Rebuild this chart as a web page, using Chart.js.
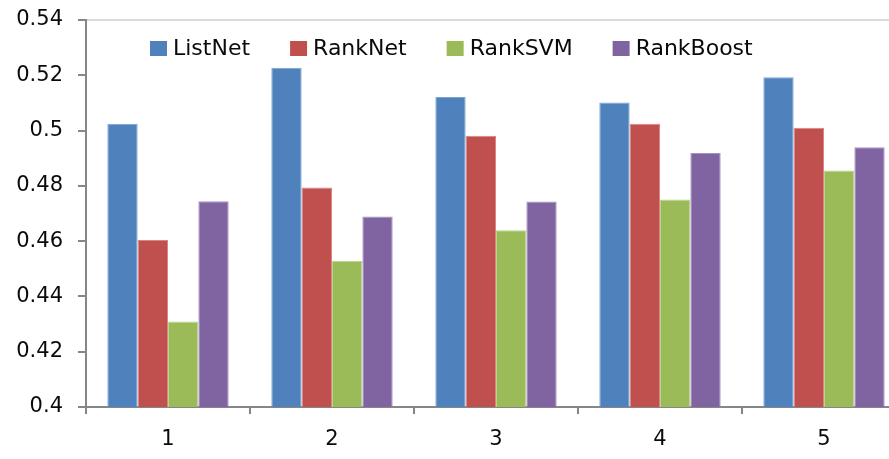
<!DOCTYPE html>
<html>
<head>
<meta charset="utf-8">
<script src="https://cdn.jsdelivr.net/npm/chart.js@4/dist/chart.umd.min.js"></script>
<style>
  html, body { margin: 0; padding: 0; background: #fff; overflow: hidden; }
  #wrap { width: 910px; height: 459px; }
</style>
</head>
<body>
<div id="wrap"><canvas id="c" width="910" height="459"></canvas></div>
<script>
// Categories and series
const categories = ['1', '2', '3', '4', '5'];
const seriesNames = ['ListNet', 'RankNet', 'RankSVM', 'RankBoost'];
const listNet   = [0.5025, 0.5227, 0.5121, 0.5102, 0.5193];
const rankNet   = [0.4604, 0.4794, 0.4981, 0.5025, 0.5010];
const rankSVM   = [0.4309, 0.4528, 0.4639, 0.4751, 0.4856];
const rankBoost = [0.4744, 0.4689, 0.4743, 0.4919, 0.4940];
const yTickLabels = ['0.4', '0.42', '0.44', '0.46', '0.48', '0.5', '0.52', '0.54'];

const colors = ['#4F81BD', '#C0504D', '#9BBB59', '#8064A2'];
const edgeColors = ['#7FA3D3', '#D88683', '#BBD48F', '#A590C0'];
const seriesValues = [listNet, rankNet, rankSVM, rankBoost];

const FONT = '"DejaVu Sans", Verdana, sans-serif';

// Legend drawn inside the plot area, in one row near the top
const innerLegend = {
  id: 'innerLegend',
  afterDraw(chart) {
    const ctx = chart.ctx;
    ctx.save();
    ctx.font = '22px ' + FONT;
    ctx.textBaseline = 'middle';
    ctx.textAlign = 'left';
    let x = 150;
    const yc = 49;
    chart.data.datasets.forEach(ds => {
      ctx.fillStyle = ds.backgroundColor;
      ctx.fillRect(x, yc - 8, 17, 15);
      x += 17 + 6;
      ctx.fillStyle = '#0a0a0a';
      ctx.fillText(ds.label, x, yc);
      x += ctx.measureText(ds.label).width + 40;
    });
    ctx.restore();
  }
};

new Chart(document.getElementById('c'), {
  type: 'bar',
  data: {
    labels: categories,
    datasets: seriesNames.map((name, i) => ({
      label: name,
      data: seriesValues[i],
      backgroundColor: colors[i],
      borderColor: edgeColors[i],
      borderWidth: { top: 1, left: 1, right: 1, bottom: 0 },
      categoryPercentage: 0.74,
      barPercentage: 1.0
    }))
  },
  options: {
    responsive: false,
    animation: false,
    layout: { padding: { top: 20, right: 4, left: 0, bottom: 0 } },
    plugins: {
      legend: { display: false },
      tooltip: { enabled: false }
    },
    scales: {
      x: {
        grid: {
          offset: true,
          drawOnChartArea: false,
          color: '#868686',
          tickColor: '#868686',
          tickLength: 7,
          lineWidth: 2
        },
        border: { color: '#868686', width: 2 },
        ticks: {
          color: '#0a0a0a',
          font: { family: FONT, size: 21 },
          padding: 13
        },
        afterFit(s) { s.height = 52; }
      },
      y: {
        min: 0.4,
        max: 0.54,
        grid: {
          drawOnChartArea: true,
          color: ctx => (ctx.tick && Math.abs(ctx.tick.value - 0.54) < 1e-6) ? '#d9d9d9' : 'rgba(0,0,0,0)',
          tickColor: '#868686',
          tickLength: 8,
          lineWidth: 2
        },
        border: { color: '#868686', width: 2 },
        ticks: {
          stepSize: 0.02,
          color: '#0a0a0a',
          font: { family: FONT, size: 21 },
          padding: 15,
          callback: v => yTickLabels[Math.round((v - 0.4) / 0.02)]
        },
        afterFit(s) {
          s.width = 86;
          s.paddingTop = 0;
          s.paddingBottom = 0;
        }
      }
    }
  },
  plugins: [innerLegend]
});
</script>
</body>
</html>
